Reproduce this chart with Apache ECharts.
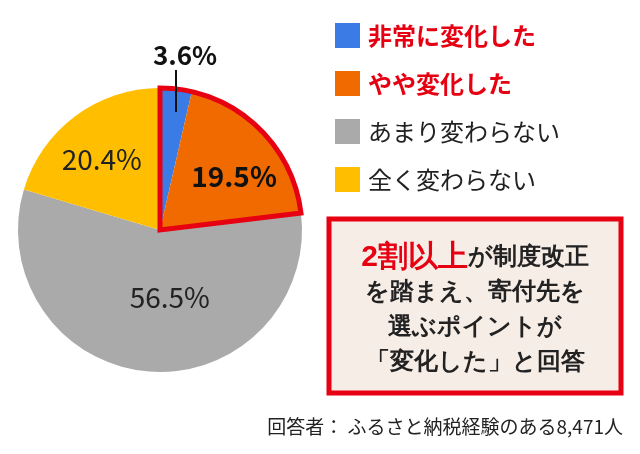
<!DOCTYPE html>
<html>
<head>
<meta charset="utf-8">
<script src="https://cdn.jsdelivr.net/npm/echarts@6/dist/echarts.min.js"></script>
<style>
  html, body { margin: 0; padding: 0; background: #fff; }
  #chart { width: 640px; height: 454px; }
</style>
</head>
<body>
<div id="chart"></div>
<script>
const categories = ["非常に変化した", "やや変化した", "あまり変わらない", "全く変わらない"];
const values = [3.6, 19.5, 56.5, 20.4];
const colors = ["#3b7be6", "#f06a00", "#aaaaaa", "#ffbf00"];
const footerText = "回答者： ふるさと納税経験のある8,471人";

const FONT = "'Noto Sans CJK JP', 'Noto Sans', sans-serif";
const RED = "#e60012";

// 変化した（非常に＋やや）の合計 → 赤枠用
const changedTotal = +(values[0] + values[1]).toFixed(1);

// ラベルの微調整 (dx, dy)
const labelShift = [null, [19, -4], [16, -6], [-14, -11]];

const chart = echarts.init(document.getElementById("chart"));

const option = {
  animation: false,
  legend: {
    orient: "vertical",
    left: 335,
    top: 23,
    padding: 0,
    itemWidth: 25,
    itemHeight: 25,
    itemGap: 23,
    icon: "rect",
    selectedMode: false,
    textStyle: {
      fontFamily: FONT,
      fontSize: 24,
      lineHeight: 25,
      color: "#222",
      padding: [0, 0, 0, 3],
    },
    data: categories.map((name, i) => ({
      name: name,
      textStyle: i < 2 ? { color: RED, fontWeight: "bold" } : {},
    })),
  },
  graphic: [
    {
      type: "rect",
      shape: { x: 329, y: 219, width: 292, height: 174 },
      style: { fill: "#f7ede7", stroke: RED, lineWidth: 5 },
      silent: true,
    },
    {
      type: "text",
      x: 475,
      y: 240,
      style: {
        text: "{r|2割以上}{b|が制度改正}\n{b|を踏まえ、寄付先を}\n{b|選ぶポイントが}\n{b|「変化した」と回答}",
        align: "center",
        fontFamily: FONT,
        rich: {
          r: { fontSize: 30, fontWeight: "bold", fill: RED, lineHeight: 35 },
          b: { fontSize: 24, fontWeight: "bold", fill: "#222", lineHeight: 35 },
        },
      },
      silent: true,
    },
    {
      type: "text",
      right: 17,
      top: 417,
      style: {
        text: footerText,
        fontFamily: FONT,
        fontSize: 19,
        fill: "#222",
      },
      silent: true,
    },
    {
      // 3.6% の引き出し線（スライス内まで伸びる）
      type: "line",
      shape: { x1: 176, y1: 70, x2: 176, y2: 112 },
      style: { stroke: "#111", lineWidth: 2 },
      z: 100,
      silent: true,
    },
  ],
  series: [
    {
      name: "回答",
      type: "pie",
      center: [160, 230],
      radius: 142,
      startAngle: 90,
      clockwise: true,
      emphasis: { disabled: true },
      label: {
        show: true,
        position: "inside",
        fontFamily: FONT,
        fontSize: 28,
        color: "#222",
        formatter: (p) => p.value.toFixed(1) + "%",
      },
      labelLine: { show: false },
      labelLayout: (params) => {
        const i = params.dataIndex;
        if (i === 0) {
          return { x: 185, y: 68, align: "center", verticalAlign: "bottom" };
        }
        const s = labelShift[i];
        return { dx: s[0], dy: s[1] };
      },
      data: categories.map((name, i) => {
        const item = {
          name: name,
          value: values[i],
          itemStyle: { color: colors[i] },
        };
        if (i === 0) {
          item.label = {
            position: "outside",
            fontWeight: "bold",
            fontSize: 26,
            color: "#111",
          };
        }
        if (i === 1) {
          item.label = { fontWeight: "bold", fontSize: 28, color: "#111" };
        }
        return item;
      }),
    },
    {
      name: "outline",
      type: "pie",
      center: [160, 230],
      radius: 142,
      startAngle: 90,
      clockwise: true,
      silent: true,
      z: 5,
      label: { show: false },
      labelLine: { show: false },
      emphasis: { disabled: true },
      data: [
        {
          name: "outline-changed",
          value: changedTotal,
          itemStyle: {
            color: "rgba(0,0,0,0)",
            borderColor: RED,
            borderWidth: 5,
            borderJoin: "miter",
          },
        },
        {
          name: "outline-rest",
          value: +(100 - changedTotal).toFixed(1),
          itemStyle: { color: "rgba(0,0,0,0)", borderWidth: 0 },
        },
      ],
    },
  ],
};

chart.setOption(option);
</script>
</body>
</html>
